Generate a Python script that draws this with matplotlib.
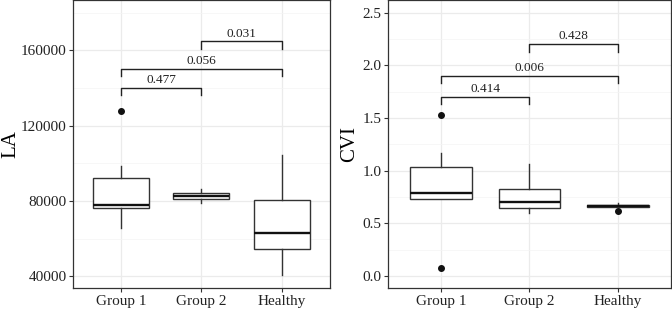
import matplotlib
matplotlib.use("Agg")
import matplotlib.pyplot as plt

plt.rcParams["font.family"] = ["Liberation Serif", "DejaVu Serif"]

groups = ["Group 1", "Group 2", "Healthy"]

# LA box statistics, one value per group
la_whislo = [65500, 79100, 40500]
la_q1 = [76300, 80900, 54300]
la_med = [78000, 82600, 63000]
la_q3 = [92400, 84400, 80400]
la_whishi = [98700, 86500, 104300]
la_fliers = [[128000], [], []]

# CVI box statistics
cvi_whislo = [0.728, 0.595, 0.655]
cvi_q1 = [0.728, 0.646, 0.657]
cvi_med = [0.791, 0.706, 0.665]
cvi_q3 = [1.032, 0.826, 0.675]
cvi_whishi = [1.165, 1.064, 0.69]
cvi_fliers = [[1.526, 0.079], [], [0.617]]

# significance brackets: (left group, right group, p label)
la_pairs = [(1, 2, "0.477"), (1, 3, "0.056"), (2, 3, "0.031")]
la_bracket_y = [140000, 150000, 164800]
cvi_pairs = [(1, 2, "0.414"), (1, 3, "0.006"), (2, 3, "0.428")]
cvi_bracket_y = [1.70, 1.90, 2.20]

DARK = "#333333"


def make_stats(whislo, q1, med, q3, whishi, fliers):
    out = []
    for i in range(len(groups)):
        out.append({"whislo": whislo[i], "q1": q1[i], "med": med[i],
                    "q3": q3[i], "whishi": whishi[i], "fliers": fliers[i]})
    return out


def style_axis(ax, ylim, major, minor, ylabel, label_x):
    ax.set_xlim(0.4, 3.6)
    ax.set_ylim(*ylim)
    ax.set_yticks(major)
    ax.set_yticks(minor, minor=True)
    ax.set_xticks([1, 2, 3])
    ax.set_xticklabels(groups)
    ax.grid(True, which="major", color="#EBEBEB", linewidth=0.9, zorder=0)
    ax.grid(True, which="minor", axis="y", color="#F4F4F4", linewidth=0.5, zorder=0)
    ax.set_axisbelow(True)
    for s in ax.spines.values():
        s.set_color(DARK)
        s.set_linewidth(0.9)
    ax.tick_params(which="major", length=3, width=0.8, color=DARK,
                   labelsize=11, labelcolor="#222222", pad=1.5)
    ax.tick_params(which="minor", length=0)
    ax.set_ylabel(ylabel, fontsize=15)
    ax.yaxis.set_label_coords(label_x, 0.5)


def draw_panel(ax, stats, pairs, bys, tip):
    ax.bxp(stats, positions=[1, 2, 3], widths=0.7, showcaps=False,
           patch_artist=True,
           boxprops=dict(facecolor="white", edgecolor=DARK, linewidth=1.0),
           whiskerprops=dict(color=DARK, linewidth=1.0),
           medianprops=dict(color="#111111", linewidth=1.7),
           flierprops=dict(marker="o", markerfacecolor="#111111",
                           markeredgecolor="#111111", markersize=4),
           zorder=3)
    for (a, b, lab), y in zip(pairs, bys):
        ax.plot([a, a, b, b], [y - tip, y, y, y - tip], color="#222222",
                linewidth=1.0, zorder=4)
        ax.text((a + b) / 2, y + tip * 0.25, lab, ha="center", va="bottom",
                fontsize=9.5, color="#222222")


fig = plt.figure(figsize=(6.72, 3.09), dpi=100)
W, H = 672, 309
ax1 = fig.add_axes([72.7 / W, (H - 288.3) / H, (330 - 72.7) / W, 288.3 / H])
ax2 = fig.add_axes([388 / W, (H - 288.3) / H, (671 - 388) / W, 288.3 / H])

draw_panel(ax1, make_stats(la_whislo, la_q1, la_med, la_q3, la_whishi, la_fliers),
           la_pairs, la_bracket_y, 3800)
style_axis(ax1, (33630, 186770), [40000, 80000, 120000, 160000],
           [60000, 100000, 140000, 180000], "LA", (20 - 72.7) / (330 - 72.7))
ax1.set_yticklabels(["40000", "80000", "120000", "160000"])

draw_panel(ax2, make_stats(cvi_whislo, cvi_q1, cvi_med, cvi_q3, cvi_whishi, cvi_fliers),
           cvi_pairs, cvi_bracket_y, 0.07)
style_axis(ax2, (-0.117, 2.62), [0.0, 0.5, 1.0, 1.5, 2.0, 2.5],
           [0.25, 0.75, 1.25, 1.75, 2.25], "CVI", (359 - 388) / (671 - 388))
ax2.set_yticklabels(["0.0", "0.5", "1.0", "1.5", "2.0", "2.5"])

fig.savefig("out.png", dpi=100)
